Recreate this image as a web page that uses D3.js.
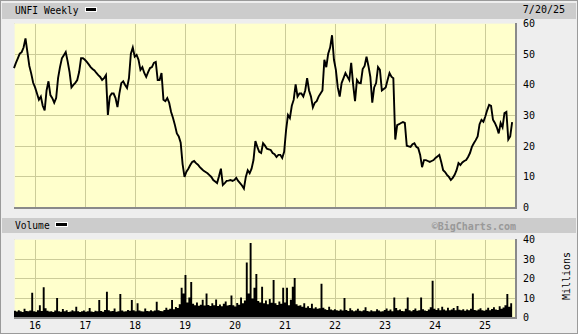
<!DOCTYPE html>
<html>
<head>
<meta charset="utf-8">
<script src="https://cdn.jsdelivr.net/npm/d3@7"></script>
<style>
  body { margin: 0; background: #fff; }
  text { font-family: "DejaVu Sans Mono", monospace; }
</style>
</head>
<body>
<div id="chart"></div>
<script>
// weekly close (sampled every 2 weeks), starting end of July 2015
var priceVals = [
  45.3, 47, 48.5, 50, 50.5, 52, 55, 50.5, 46, 43.5,
  40.5, 39, 37, 35, 36, 33, 31.5, 38, 41, 36.5,
  35.5, 34, 35.5, 42, 45.6, 48.5, 49.5, 50.5, 47.5, 44,
  39, 39.8, 40.5, 41.4, 44, 48.5, 48.5, 48, 47.3, 46.5,
  45.6, 45, 44.5, 43.7, 43, 42.4, 41.4, 42, 43, 30,
  36, 37, 37, 35.5, 32.6, 37, 40.4, 41, 39.8, 38.8,
  42, 50, 52, 49, 49.6, 48, 44.7, 45.6, 43.7, 42.4,
  44, 45.3, 45.6, 47, 47.3, 41.4, 41.4, 43.7, 35, 34.5,
  35.5, 34, 31, 29, 26.7, 24, 23, 21, 14, 9.8,
  11.5, 12.5, 13.7, 14.7, 15, 14.3, 13.8, 13, 12.4, 11.8,
  11.4, 11, 10.4, 9.8, 8.8, 8.3, 7.8, 10, 12.5, 7.2,
  7.8, 8.5, 8.6, 8.8, 8.5, 8.8, 9.5, 8.5, 7.8, 7,
  6, 9.8, 12, 11, 12.5, 15.3, 21.5, 19.6, 18, 17.6,
  20.8, 20, 19, 18.8, 18.6, 17.6, 17.2, 16.3, 17, 17,
  16, 18, 25, 30, 29, 33, 35, 40, 36, 37,
  37, 36, 38, 42, 38, 36, 32.5, 34, 34.5, 36,
  37, 38, 48, 45.6, 50, 52, 56, 48, 44.7, 39,
  36, 40.4, 42, 43.7, 42.5, 41.4, 47, 40, 34.5, 41.4,
  40.5, 40.4, 45, 46, 49, 46, 42.4, 34, 39, 40.4,
  45.6, 44.7, 38, 38.5, 39, 41.4, 43.7, 42.5, 42, 22,
  26.7, 27, 27.4, 27.7, 27.4, 20, 19.8, 19.6, 20.5, 20.8,
  19.6, 19.2, 17, 13, 15.3, 15.3, 15, 14.7, 15, 15.3,
  16, 16.5, 17, 14.7, 12, 11.4, 10.5, 9.8, 8.8, 9.5,
  10.5, 12, 14.3, 13.7, 14.5, 15, 15.3, 16.3, 17.6, 19.6,
  20.8, 21.8, 23, 27, 28.4, 27.8, 29.5, 31.6, 33.3, 33,
  28.5, 27.4, 26, 24, 27.4, 26, 30.6, 31, 22, 23,
  27.7
];

// volume, millions of shares
var volVals = [
  3.2, 2.8, 3.5, 3.0, 2.6, 4.2, 3.1, 2.9, 3.3, 12.5,
  3.0, 2.7, 3.4, 6.0, 3.1, 15.2, 4.5, 3.2, 2.8, 3.0,
  2.6, 3.3, 9.7, 3.0, 2.7, 4.1, 2.9, 3.4, 2.6, 2.8,
  3.5, 2.9, 5.2, 3.0, 2.6, 2.9, 3.3, 2.7, 3.0, 4.6,
  2.8, 2.6, 3.2, 3.0, 8.7, 3.1, 2.7, 3.6, 13.0, 3.4,
  2.9, 3.1, 4.4, 2.7, 3.0, 11.8, 3.3, 2.8, 3.0, 3.6,
  3.2, 8.7, 3.4, 2.9, 7.0, 3.3, 3.0, 2.8, 4.3, 3.1,
  2.9, 3.5, 3.0, 3.3, 7.8, 3.4, 3.1, 2.9, 3.6, 4.8,
  3.7, 4.2, 8.7, 4.0, 5.1, 4.6, 6.5, 15.0, 12.0, 21.5,
  7.5, 10.0, 18.0, 6.8, 6.0, 7.4, 5.8, 6.3, 8.9, 5.9,
  12.0, 6.2, 5.6, 7.1, 6.0, 9.0, 5.7, 6.4, 5.5, 6.8,
  8.0, 5.9, 6.2, 11.0, 6.0, 5.4, 7.2, 6.3, 10.0, 7.0,
  8.5, 28.0, 12.0, 38.0, 9.5, 15.0, 22.0, 8.2, 7.5, 15.5,
  7.0, 8.4, 6.5, 9.2, 7.3, 19.0, 7.1, 6.2, 8.0, 6.8,
  15.0, 7.4, 15.0, 6.0, 8.8, 15.5, 20.0, 6.5, 5.8, 6.0,
  5.2, 7.0, 4.8, 5.5, 4.6, 6.8, 4.4, 5.0, 4.2, 4.5,
  17.0, 4.8, 4.0, 3.6, 5.2, 3.8, 3.4, 4.0, 3.5, 3.2,
  3.8, 3.3, 9.7, 3.6, 3.1, 4.5, 3.4, 3.0, 3.3, 4.2,
  3.2, 2.9, 3.5, 5.0, 3.1, 2.8, 3.4, 3.0, 2.9, 4.0,
  3.3, 2.8, 3.0, 3.6, 4.4, 3.2, 3.8, 2.9, 10.0, 4.6,
  3.5, 3.8, 3.1, 2.9, 4.2, 10.0, 3.4, 3.0, 3.6, 4.4,
  3.2, 3.5, 10.0, 4.0, 3.3, 3.1, 3.8, 5.0, 18.6, 4.2,
  3.6, 4.5, 3.4, 5.2, 3.8, 3.3, 4.8, 3.5, 3.9, 4.6,
  3.4, 5.6, 3.7, 3.5, 4.0, 3.2, 3.8, 3.4, 4.2, 12.0,
  3.6, 3.3, 3.9, 4.5, 3.4, 3.2, 3.7, 4.8, 3.5, 4.1,
  5.0, 3.8, 3.6, 5.5, 4.2, 4.9, 6.0, 11.8, 5.2, 7.0,
  7.8
];

var yearLabels = ["16", "17", "18", "19", "20", "21", "22", "23", "24", "25"];
var priceTicks = [0, 10, 20, 30, 40, 50, 60];
var volTicks = [0, 10, 20, 30, 40];

var firstDate = new Date(2015, 6, 31);
var dates = priceVals.map(function(d, i) { return d3.timeDay.offset(firstDate, i * 14); });

var W = 579, H = 335;
var left = 14, right = 515;
var price = {top: 23, bottom: 207};
var vol = {top: 239, bottom: 317};

var svg = d3.select("#chart").append("svg")
    .attr("width", W)
    .attr("height", H);

// frame + title bars
svg.append("rect").attr("x", 0.5).attr("y", 0.5).attr("width", 577).attr("height", 333)
    .attr("fill", "#eeeeee").attr("stroke", "#9a9a9a");
svg.append("rect").attr("x", 2).attr("y", 3).attr("width", 574).attr("height", 16).attr("fill", "#cccccc");
svg.append("rect").attr("x", 2).attr("y", 218).attr("width", 574).attr("height", 15).attr("fill", "#cccccc");

var x = d3.scaleTime()
    .domain([new Date(2015, 6, 31), new Date(2025, 7, 8)])
    .range([left, right]);
var yP = d3.scaleLinear().domain([0, 60]).range([price.bottom, price.top]);
var yV = d3.scaleLinear().domain([0, 40]).range([vol.bottom, vol.top]);

var yearDates = yearLabels.map(function(s) { return new Date(2000 + +s, 0, 1); });

function panel(p, y, ticks) {
  var g = svg.append("g");
  g.append("rect").attr("x", left).attr("y", p.top)
      .attr("width", right - left).attr("height", p.bottom - p.top)
      .attr("fill", "#ffffcc");
  g.selectAll(".hg").data(ticks).enter().append("line")
      .attr("x1", left).attr("x2", right)
      .attr("y1", function(d) { return Math.round(y(d)) + 0.5; })
      .attr("y2", function(d) { return Math.round(y(d)) + 0.5; })
      .attr("stroke", "#cccc99");
  g.selectAll(".vg").data(yearDates).enter().append("line")
      .attr("x1", function(d) { return Math.round(x(d)) + 0.5; })
      .attr("x2", function(d) { return Math.round(x(d)) + 0.5; })
      .attr("y1", p.top).attr("y2", p.bottom)
      .attr("stroke", "#cccc99");
  // light top/left edge, dark shadow bottom/right
  g.append("path").attr("d", "M" + (left + 0.5) + "," + (p.bottom) + "V" + (p.top + 0.5) + "H" + right)
      .attr("fill", "none").attr("stroke", "#f4f4e0");
  g.append("path").attr("d", "M" + left + "," + (p.bottom + 1) + "H" + (right + 1) + "V" + p.top)
      .attr("fill", "none").attr("stroke", "#8a8a8a").attr("stroke-width", 2);
  g.selectAll(".yl").data(ticks).enter().append("text")
      .attr("x", 523).attr("y", function(d) { return y(d) + 4; })
      .attr("font-size", "10px").attr("fill", "#000")
      .text(function(d) { return d; });
  return g;
}

panel(price, yP, priceTicks);
panel(vol, yV, volTicks);

// volume bars
var volArea = d3.area()
    .x(function(d, i) { return x(dates[i]); })
    .y0(yV(0))
    .y1(function(d) { return yV(d); })
    .curve(d3.curveStepAfter);
svg.append("path").datum(volVals)
    .attr("d", volArea)
    .attr("fill", "#000");

// price line
var line = d3.line()
    .x(function(d, i) { return x(dates[i]); })
    .y(function(d) { return yP(d); });
svg.append("path").datum(priceVals)
    .attr("d", line)
    .attr("fill", "none")
    .attr("stroke", "#000")
    .attr("stroke-width", 1.9)
    .attr("stroke-linejoin", "miter");

// x labels
svg.selectAll(".xl").data(yearDates).enter().append("text")
    .attr("x", function(d) { return x(d); })
    .attr("y", 329)
    .attr("text-anchor", "middle")
    .attr("font-size", "10px")
    .text(function(d, i) { return yearLabels[i]; });

// titles and legends
svg.append("text").attr("x", 15).attr("y", 13.5).attr("font-size", "9.6px").text("UNFI Weekly");
svg.append("rect").attr("x", 85.5).attr("y", 7.5).attr("width", 11).attr("height", 4)
    .attr("fill", "#000").attr("stroke", "#fff");
svg.append("text").attr("x", 565).attr("y", 13).attr("text-anchor", "end").attr("font-size", "10px").text("7/20/25");

svg.append("text").attr("x", 15).attr("y", 228.5).attr("font-size", "9.6px").text("Volume");
svg.append("rect").attr("x", 55.5).attr("y", 222.5).attr("width", 12).attr("height", 4)
    .attr("fill", "#000").attr("stroke", "#fff");
svg.append("text").attr("x", 516).attr("y", 229.5).attr("text-anchor", "end")
    .attr("font-family", "DejaVu Sans").attr("font-weight", "bold")
    .attr("font-size", "10px").attr("fill", "#999999")
    .text("©BigCharts.com");

svg.append("text")
    .attr("transform", "translate(570,276) rotate(-90)")
    .attr("text-anchor", "middle").attr("font-size", "10px")
    .text("Millions");
</script>
</body>
</html>
